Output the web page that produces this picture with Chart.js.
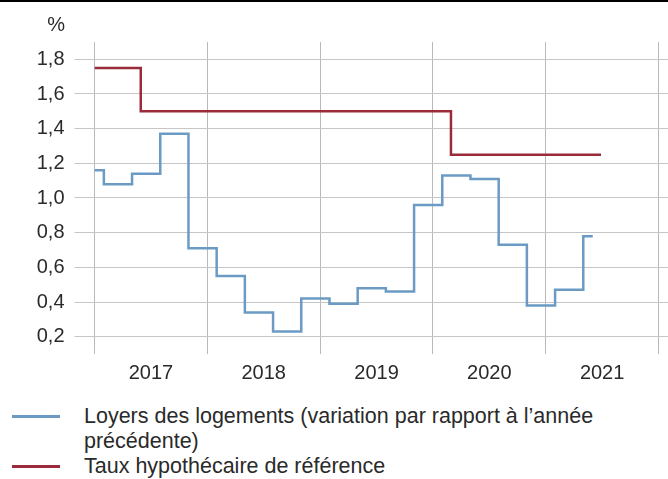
<!DOCTYPE html>
<html>
<head>
<meta charset="utf-8">
<script src="https://cdn.jsdelivr.net/npm/chart.js@4/dist/chart.umd.min.js"></script>
<style>
  html, body { margin: 0; padding: 0; background: #fff; }
  body { width: 668px; height: 479px; position: relative; overflow: hidden; font-family: "Liberation Sans", Arial, sans-serif; }
  #wrap { position: absolute; left: 0; top: 0; width: 668px; height: 400px; }
  #legend { position: absolute; left: 0; top: 404px; width: 668px; }
  .item { position: relative; padding-left: 84px; width: 560px; font-size: 21.5px; line-height: 25px; color: #2a2a2a; }
  .swatch { position: absolute; left: 12px; top: 11px; width: 48px; height: 3px; }
</style>
</head>
<body>
<div id="wrap"><canvas id="c" width="668" height="400"></canvas></div>
<div id="legend"></div>
<script>
// ---- data ----
const yearLabels = [2017, 2018, 2019, 2020, 2021];
const yTickValues = [0.2, 0.4, 0.6, 0.8, 1.0, 1.2, 1.4, 1.6, 1.8];

const rentLabel = "Loyers des logements (variation par rapport à l’année précédente)";
const rentDates = [2017.0, 2017.083, 2017.333, 2017.583, 2017.833, 2018.083, 2018.333, 2018.583, 2018.833,
                   2019.083, 2019.333, 2019.583, 2019.833, 2020.083, 2020.333, 2020.583, 2020.833,
                   2021.083, 2021.333, 2021.417];
const rentValues = [1.16, 1.08, 1.14, 1.37, 0.71, 0.55, 0.34, 0.23, 0.42,
                    0.39, 0.48, 0.46, 0.96, 1.13, 1.11, 0.73, 0.38,
                    0.47, 0.78, 0.78];

const rateLabel = "Taux hypothécaire de référence";
const rateDates = [2017.0, 2017.41, 2020.16, 2021.49];
const rateValues = [1.75, 1.50, 1.25, 1.25];

const blue = '#6b9bc4';
const red = '#9b2b3b';
const gridColor = '#c6c6c6';
const textColor = '#2a2a2a';
const FONT = '"Liberation Sans", Arial, sans-serif';

const decor = {
  id: 'decor',
  beforeDraw(chart) {
    const ctx = chart.ctx;
    ctx.save();
    ctx.fillStyle = '#000';
    ctx.fillRect(0, 0, chart.width, 2);
    ctx.restore();
  },
  afterDraw(chart) {
    const ctx = chart.ctx;
    ctx.save();
    ctx.fillStyle = textColor;
    ctx.font = '20px ' + FONT;
    ctx.textAlign = 'right';
    ctx.textBaseline = 'middle';
    ctx.fillText('%', 65, 25);
    ctx.restore();
  }
};

const chart = new Chart(document.getElementById('c'), {
  type: 'line',
  data: {
    datasets: [
      {
        label: rentLabel,
        data: rentDates.map((x, i) => ({ x: x, y: rentValues[i] })),
        borderColor: blue,
        borderWidth: 2.5,
        stepped: 'before',
        pointRadius: 0,
        fill: false
      },
      {
        label: rateLabel,
        data: rateDates.map((x, i) => ({ x: x, y: rateValues[i] })),
        borderColor: red,
        borderWidth: 2.5,
        stepped: 'before',
        pointRadius: 0,
        fill: false
      }
    ]
  },
  options: {
    responsive: false,
    animation: false,
    layout: { padding: { top: 42, left: 0, right: 0, bottom: 0 } },
    plugins: { legend: { display: false }, tooltip: { enabled: false } },
    scales: {
      x: {
        type: 'linear',
        min: 2017,
        max: 2022.084,
        border: { display: false },
        afterBuildTicks(axis) {
          const t = [];
          yearLabels.forEach(y => { t.push({ value: y }); t.push({ value: y + 0.5 }); });
          t.push({ value: yearLabels[yearLabels.length - 1] + 1 });
          axis.ticks = t;
        },
        afterFit(axis) { axis.height = 46; },
        grid: {
          color: (c) => (c.tick && c.tick.value % 1 !== 0) ? 'rgba(0,0,0,0)' : '#b9b9b9',
          lineWidth: 1,
          drawTicks: false
        },
        ticks: {
          autoSkip: false,
          maxRotation: 0,
          padding: 7,
          color: textColor,
          font: { family: FONT, size: 20 },
          callback: (v) => (v % 1 !== 0) ? String(Math.floor(v)) : ''
        }
      },
      y: {
        min: 0.1,
        max: 1.9,
        border: { display: false },
        afterBuildTicks(axis) { axis.ticks = yTickValues.map(v => ({ value: v })); },
        afterFit(axis) { axis.width = 94.5; },
        grid: {
          color: gridColor,
          tickColor: gridColor,
          lineWidth: 1,
          tickLength: 20
        },
        ticks: {
          padding: 10,
          color: textColor,
          font: { family: FONT, size: 20 },
          callback: (v) => Number(v).toFixed(1).replace('.', ',')
        }
      }
    }
  },
  plugins: [decor]
});

// HTML legend built from the chart's datasets
const legend = document.getElementById('legend');
chart.data.datasets.forEach(ds => {
  const item = document.createElement('div');
  item.className = 'item';
  const sw = document.createElement('span');
  sw.className = 'swatch';
  sw.style.background = ds.borderColor;
  item.appendChild(sw);
  item.appendChild(document.createTextNode(ds.label));
  legend.appendChild(item);
});
</script>
</body>
</html>
